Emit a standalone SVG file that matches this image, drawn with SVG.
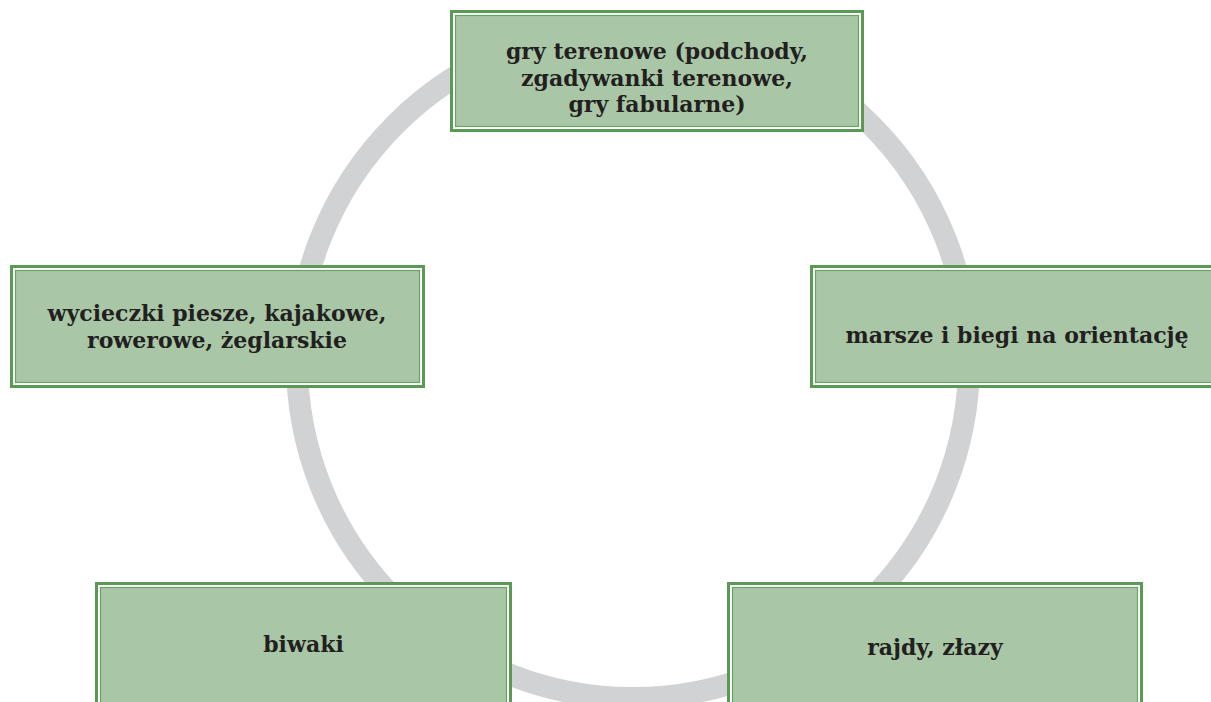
<svg xmlns="http://www.w3.org/2000/svg" width="1211" height="702" viewBox="0 0 1211 702">
<style>
.outer{fill:#ffffff;stroke:#5b9a55;stroke-width:3}
.inner{fill:#a9c7a6;stroke:#6aa264;stroke-width:1.2}
.lbl{font-family:"DejaVu Serif","Liberation Serif",serif;font-weight:bold;font-size:22px;fill:#231f20;text-anchor:middle}
</style>
<rect width="1211" height="702" fill="#ffffff"/>
<g id="connectors">
<circle cx="633" cy="362" r="336" fill="none" stroke="#d1d2d4" stroke-width="22"/>
</g>
<g id="node-top">
<rect class="outer" x="451.5" y="11.5" width="411" height="119"/>
<rect class="inner" x="455.5" y="15.5" width="403" height="111"/>
<text class="lbl" x="657" y="59">gry terenowe (podchody,</text>
<text class="lbl" x="657" y="86">zgadywanki terenowe,</text>
<text class="lbl" x="657" y="112">gry fabularne)</text>
</g>
<g id="node-left">
<rect class="outer" x="11.5" y="266.5" width="412" height="120"/>
<rect class="inner" x="15.5" y="270.5" width="404" height="112"/>
<text class="lbl" x="217" y="321">wycieczki piesze, kajakowe,</text>
<text class="lbl" x="217" y="348">rowerowe, żeglarskie</text>
</g>
<g id="node-right">
<rect class="outer" x="811.5" y="266.5" width="412" height="120"/>
<rect class="inner" x="815.5" y="270.5" width="404" height="112"/>
<text class="lbl" x="1017" y="343">marsze i biegi na orientację</text>
</g>
<g id="node-bottom-left">
<rect class="outer" x="96.5" y="583.5" width="414" height="124"/>
<rect class="inner" x="100.5" y="587.5" width="406" height="116"/>
<text class="lbl" x="303.5" y="652">biwaki</text>
</g>
<g id="node-bottom-right">
<rect class="outer" x="728.5" y="583.5" width="413" height="124"/>
<rect class="inner" x="732.5" y="587.5" width="405" height="116"/>
<text class="lbl" x="935" y="655">rajdy, złazy</text>
</g>
</svg>
